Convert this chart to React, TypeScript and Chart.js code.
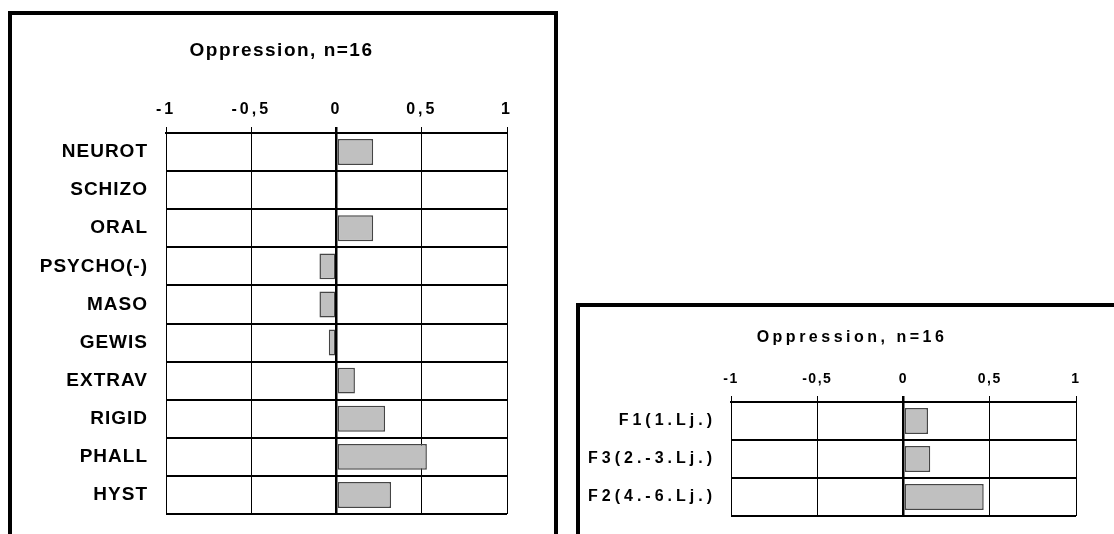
import React, { useEffect, useRef } from 'react';
import { Chart, registerables } from 'chart.js';

Chart.register(...registerables);

const chartTitle = 'Oppression, n=16';
const leftCategories = ['NEUROT', 'SCHIZO', 'ORAL', 'PSYCHO(-)', 'MASO', 'GEWIS', 'EXTRAV', 'RIGID', 'PHALL', 'HYST'];
const leftValues = [0.215, 0.01, 0.215, -0.1, -0.1, -0.045, 0.108, 0.285, 0.53, 0.32];
const rightCategories = ['F1(1.Lj.)', 'F3(2.-3.Lj.)', 'F2(4.-6.Lj.)'];
const rightValues = [0.142, 0.155, 0.465];
const tickValues = [-1, -0.5, 0, 0.5, 1];
const tickLabels = ['-1', '-0,5', '0', '0,5', '1'];

const FONT = "'Liberation Sans', Arial, sans-serif";

type Opts = {
  titleShift: number;
  yWidth: number;
  xHeight: number;
  titleTop: number;
  titleBottom: number;
  titleSize: number;
  tickSize: number;
  labelSize: number;
  tickPad: number;
  padRight: number;
  padBottom: number;
  labelGap: number;
  titleSpacing: string;
  tickSpacing: string;
  labelSpacing: string;
};

function patchLabels(chart: any, scale: any, spacing: string) {
  if (!scale || scale.__patched) return;
  const orig = scale.drawLabels.bind(scale);
  scale.drawLabels = (area: any) => {
    const ctx = chart.ctx as any;
    const prev = ctx.letterSpacing;
    ctx.letterSpacing = spacing;
    orig(area);
    ctx.letterSpacing = prev;
  };
  scale.__patched = true;
}

function patchTitle(chart: any, dx: number) {
  const block = chart.titleBlock;
  if (!block || block.__patched) return;
  const orig = block.draw.bind(block);
  block.draw = (...args: any[]) => {
    const ctx = chart.ctx;
    ctx.save();
    ctx.translate(dx, 0);
    orig(...args);
    ctx.restore();
  };
  block.__patched = true;
}

function makeConfig(categories: string[], values: number[], o: Opts): any {
  return {
    type: 'bar',
    data: {
      labels: categories,
      datasets: [
        {
          data: values,
          backgroundColor: '#c0c0c0',
          borderColor: '#454545',
          borderWidth: 1.5,
          borderSkipped: false,
          categoryPercentage: 1,
          barPercentage: 0.68,
        },
      ],
    },
    options: {
      indexAxis: 'y',
      responsive: false,
      animation: false,
      devicePixelRatio: 1,
      layout: { padding: { left: 0, top: 0, right: o.padRight, bottom: o.padBottom } },
      plugins: {
        legend: { display: false },
        tooltip: { enabled: false },
        title: {
          display: true,
          text: chartTitle,
          color: '#000',
          font: { family: FONT, size: o.titleSize, weight: 'bold' },
          padding: { top: o.titleTop, bottom: o.titleBottom },
        },
      },
      scales: {
        x: {
          position: 'top',
          min: -1,
          max: 1,
          afterBuildTicks: (scale: any) => {
            scale.ticks = tickValues.map((v) => ({ value: v }));
          },
          afterFit: (scale: any) => {
            scale.height = o.xHeight;
          },
          ticks: {
            callback: (_v: any, i: number) => tickLabels[i],
            color: '#000',
            font: { family: FONT, size: o.tickSize, weight: 'bold' },
            padding: o.tickPad,
            maxRotation: 0,
            autoSkip: false,
          },
          grid: {
            color: '#000',
            lineWidth: (c: any) => (c.tick && c.tick.value === 0 ? 2.5 : 1),
            drawTicks: true,
            tickLength: 6,
          },
          border: { display: true, color: '#000', width: 2 },
        },
        y: {
          afterFit: (scale: any) => {
            scale.width = o.yWidth;
          },
          ticks: {
            color: '#000',
            font: { family: FONT, size: o.labelSize, weight: 'bold' },
            padding: 0,
          },
          grid: {
            color: '#000',
            lineWidth: 2,
            drawTicks: true,
            tickLength: o.labelGap,
            tickColor: 'rgba(0,0,0,0)',
          },
          border: { display: true, color: '#000', width: 1 },
        },
      },
    },
    plugins: [
      {
        id: 'letterSpacing',
        afterLayout: (chart: any) => {
          patchLabels(chart, chart.scales.x, o.tickSpacing);
          patchLabels(chart, chart.scales.y, o.labelSpacing);
          patchTitle(chart, o.titleShift);
        },
        beforeDraw: (chart: any) => {
          (chart.ctx as any).letterSpacing = o.titleSpacing;
        },
      },
    ],
  };
}

function BarChart(props: {
  categories: string[];
  values: number[];
  opts: Opts;
  width: number;
  height: number;
  style: React.CSSProperties;
}) {
  const ref = useRef<HTMLCanvasElement | null>(null);
  useEffect(() => {
    if (!ref.current) return;
    const chart = new Chart(ref.current, makeConfig(props.categories, props.values, props.opts));
    return () => chart.destroy();
  }, []);
  return (
    <canvas
      ref={ref}
      width={props.width}
      height={props.height}
      style={{ position: 'absolute', width: props.width, height: props.height, ...props.style }}
    />
  );
}

export default function App() {
  return (
    <div
      style={{
        position: 'absolute',
        left: 0,
        top: 0,
        width: 1114,
        height: 534,
        overflow: 'hidden',
        background: '#fff',
      }}
    >
      <div
        style={{
          position: 'absolute',
          left: 8,
          top: 11,
          width: 542,
          height: 600,
          border: '4px solid #000',
        }}
      />
      <div
        style={{
          position: 'absolute',
          left: 576,
          top: 303,
          width: 700,
          height: 400,
          border: '4px solid #000',
        }}
      />
      <BarChart
        categories={leftCategories}
        values={leftValues}
        width={543}
        height={519}
        style={{ left: 12, top: 15 }}
        opts={{
          titleShift: 22,
          yWidth: 154,
          xHeight: 62.6,
          titleTop: 24.6,
          titleBottom: 8,
          titleSize: 19,
          tickSize: 16,
          labelSize: 19,
          tickPad: 7.4,
          padRight: 48,
          padBottom: 20,
          labelGap: 18,
          titleSpacing: '1.5px',
          tickSpacing: '3px',
          labelSpacing: '1px',
        }}
      />
      <BarChart
        categories={rightCategories}
        values={rightValues}
        width={534}
        height={227}
        style={{ left: 580, top: 307 }}
        opts={{
          titleShift: 24,
          yWidth: 151,
          xHeight: 46.4,
          titleTop: 21.4,
          titleBottom: 8,
          titleSize: 16,
          tickSize: 14,
          labelSize: 16,
          tickPad: 8.6,
          padRight: 38,
          padBottom: 18,
          labelGap: 15,
          titleSpacing: '3.5px',
          tickSpacing: '1.5px',
          labelSpacing: '4px',
        }}
      />
    </div>
  );
}
